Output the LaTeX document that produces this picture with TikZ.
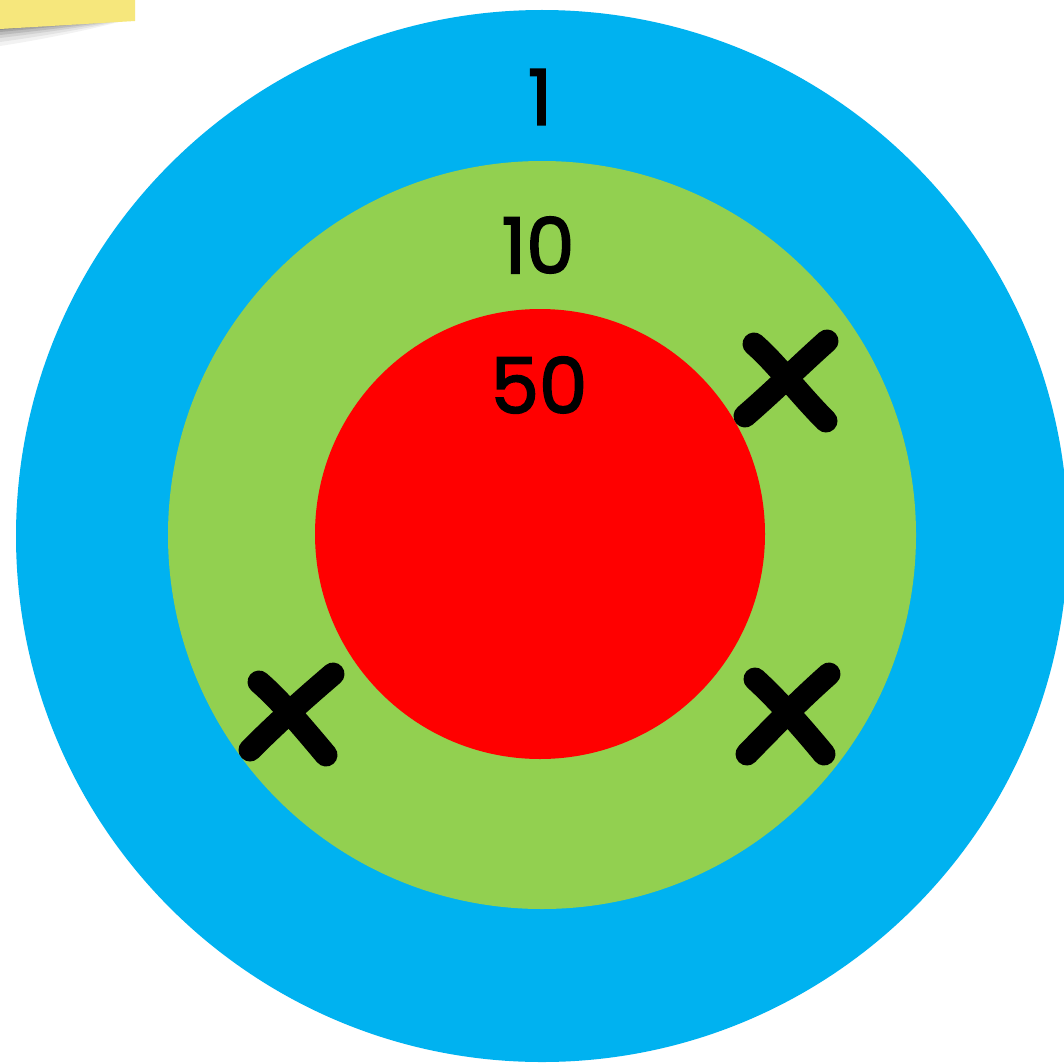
\documentclass[tikz,border=0pt]{standalone}
\usepackage{fontspec}
\setmainfont{Poppins}
\newfontfamily\digitfont{Poppins}[FakeBold=2.2]
\usetikzlibrary{calc}
\definecolor{ringblue}{HTML}{00B2F0}
\definecolor{ringgreen}{HTML}{92D050}
\definecolor{ringred}{HTML}{FF0000}
\definecolor{notey}{HTML}{F6E77C}
\tikzset{
  ring/.style={circle, inner sep=0pt, draw=none},
  score/.style={inner sep=0pt, font=\digitfont\fontsize{77}{77}\selectfont, text=black},
  cross/.style={line width=23pt, line cap=round, black},
}
\begin{document}
\begin{tikzpicture}[x=1pt,y=-1pt]
\useasboundingbox (0,0) rectangle (1064,1062);
\clip (0,0) rectangle (1064,1062);
\fill[white] (0,0) rectangle (1064,1062);
% sticky note shadow and note
\foreach \d/\o in {18/0.05,14/0.06,10/0.08,7/0.10,4/0.12,2/0.14}{
  \fill[black, opacity=\o] (0,24) -- (132,18) .. controls (110,20+0.3*\d) and (50,24+0.8*\d) .. (0,28+\d) -- cycle;
}
\fill[notey] (0,0) -- (135,0) -- (135,21) -- (0,29) -- cycle;
% rings
\node[ring, fill=ringblue, minimum size=1052pt] (outer) at (542,536) {};
\node[ring, fill=ringgreen, minimum size=748pt] (middle) at (542,535) {};
\node[ring, fill=ringred, minimum size=450pt] (inner) at (540,534) {};
% scores
\node[score] (s1) at (540,97) {1};
\node[score] (s10) at (538,245) {10};
\node[score] (s50) at (539,385) {50};
% crosses
\draw[cross] (754,344) .. controls (775,362) and (800,395) .. (826,421);
\draw[cross] (827,341) .. controls (800,365) and (775,390) .. (745,416);
\draw[cross] (259,682) .. controls (280,700) and (305,730) .. (326,755);
\draw[cross] (333,674) .. controls (305,698) and (280,720) .. (250,750);
\draw[cross] (755,679) .. controls (775,697) and (800,725) .. (824,754);
\draw[cross] (829,674) .. controls (803,697) and (778,722) .. (747,754);
\end{tikzpicture}
\end{document}
